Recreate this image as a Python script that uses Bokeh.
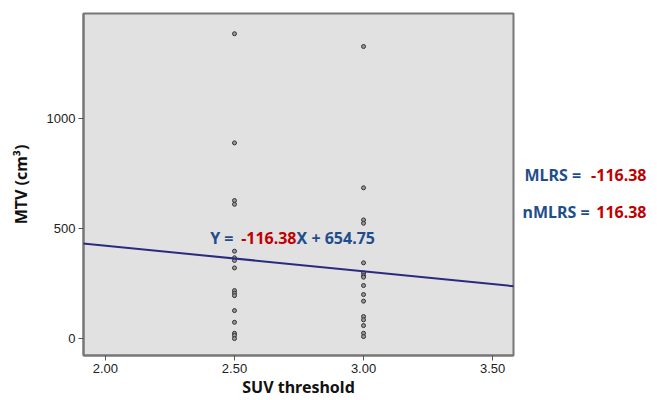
from bokeh.plotting import figure
from bokeh.layouts import row
from bokeh.models import FixedTicker, NumeralTickFormatter, Slope, Label, Range1d
from bokeh.embed import file_html
from bokeh.resources import INLINE

# Data
x_values_25 = [2.5] * 16
y_values_25 = [1385, 889, 627, 610, 397, 367, 355, 321, 218, 206, 195, 127, 74, 24, 14, 0]
x_values_30 = [3.0] * 16
y_values_30 = [1327, 685, 539, 524, 344, 298, 286, 279, 241, 200, 170, 100, 85, 59, 24, 9]
slope_value = -116.38
intercept_value = 654.75
x_ticks = [2.0, 2.5, 3.0, 3.5]
y_ticks = [0, 500, 1000]

BLUE = "#1f4e8c"
RED = "#c00000"
FONT = "Noto Sans"

p = figure(width=515, height=400, output_backend="svg", toolbar_location=None,
           x_range=(1.915, 3.581), y_range=(-77, 1477),
           min_border_left=83, min_border_right=2, min_border_top=13, min_border_bottom=45)

p.background_fill_color = "#e1e1e1"
p.border_fill_color = "white"
p.outline_line_color = "#777777"
p.outline_line_width = 2
p.xgrid.visible = False
p.ygrid.visible = False

p.scatter(x_values_25 + x_values_30, y_values_25 + y_values_30, marker="circle", size=4,
          line_color="#333333", fill_color="#999999", line_width=1)

p.add_layout(Slope(gradient=slope_value, y_intercept=intercept_value,
                   line_color="#2a2a80", line_width=2))

for ax in (p.xaxis, p.yaxis):
    ax.axis_line_color = "#777777"
    ax.axis_line_width = 2
    ax.major_tick_line_color = "#555555"
    ax.major_tick_out = 5
    ax.major_tick_in = 0
    ax.minor_tick_out = 0
    ax.minor_tick_in = 0
    ax.major_label_text_font = "Liberation Sans"
    ax.major_label_text_font_size = "13px"
    ax.major_label_text_color = "#222222"
    ax.axis_label_text_font = FONT
    ax.axis_label_text_font_style = "bold"
    ax.axis_label_text_font_size = "16px"
    ax.axis_label_text_color = "#111111"

p.xaxis.major_label_standoff = 3
p.xaxis.axis_label_standoff = 0
p.yaxis.major_label_standoff = 3
p.yaxis.axis_label_standoff = 12

p.xaxis.ticker = FixedTicker(ticks=x_ticks)
p.xaxis.formatter = NumeralTickFormatter(format="0.00")
p.yaxis.ticker = FixedTicker(ticks=y_ticks)
p.xaxis.axis_label = "SUV threshold"
p.yaxis.axis_label = "MTV (cm³)"

def lab(fig, x, y, text, color, align):
    fig.add_layout(Label(x=x, y=y, text=text, text_color=color, text_font=FONT,
                         text_font_style="bold", text_font_size="16px",
                         text_align=align, text_baseline="middle"))

# Regression equation (data units inside the frame)
lab(p, 2.496, 459, "Y =", BLUE, "right")
lab(p, 2.7403, 459, f"{slope_value:.2f}", RED, "right")
lab(p, 2.7403, 459, f"X + {intercept_value:.2f}", BLUE, "left")

# Right-hand annotation panel: shares the y scale of the main plot
side = figure(width=142, height=400, output_backend="svg", toolbar_location=None,
              x_range=Range1d(515, 657), y_range=p.y_range,
              x_axis_type=None, y_axis_type=None,
              min_border_left=0, min_border_right=0, min_border_top=13, min_border_bottom=45)
side.outline_line_color = None
side.background_fill_color = "white"
side.border_fill_color = "white"
side.xgrid.visible = False
side.ygrid.visible = False

lab(side, 524, 741, "MLRS =", BLUE, "left")
lab(side, 646, 741, f"{slope_value:.2f}", RED, "right")
lab(side, 522, 573, "nMLRS =", BLUE, "left")
lab(side, 646, 573, f"{-slope_value:.2f}", RED, "right")

layout = row(p, side, spacing=0)

open("out.html", "w").write(file_html(layout, INLINE))
